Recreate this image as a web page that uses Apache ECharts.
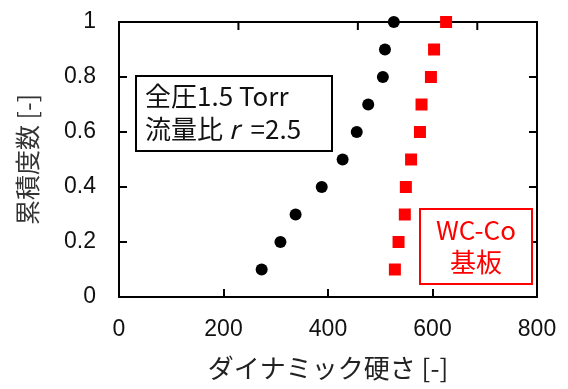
<!DOCTYPE html>
<html>
<head>
<meta charset="utf-8">
<script src="https://cdn.jsdelivr.net/npm/echarts@6/dist/echarts.min.js"></script>
<style>
  html, body { margin: 0; padding: 0; background: #fff; }
  #chart { width: 568px; height: 389px; }
</style>
</head>
<body>
<div id="chart"></div>
<script>
// Cumulative frequency levels (y) shared by both samples
const cumulative = [0.1, 0.2, 0.3, 0.4, 0.5, 0.6, 0.7, 0.8, 0.9, 1.0];
// Dynamic hardness of the film (black circles)
const hardnessFilm = [273, 309, 338, 388, 428, 455, 477, 505, 509, 526];
// Dynamic hardness of the WC-Co substrate (red squares)
const hardnessSubstrate = [528, 535, 547, 549, 559, 576, 579, 597, 603, 626];

const xTicks = { min: 0, max: 800, interval: 200 };
const yTicks = { min: 0, max: 1, interval: 0.2 };
// Secondary scale used only for the ticks along the upper frame edge
const topTicks = { min: 0, max: 700, values: [200, 400, 600] };

const font = '"Liberation Sans", Arial, sans-serif';
const jpFont = '"Noto Sans CJK JP", "Noto Sans", sans-serif';

const pairs = (xs) => xs.map((x, i) => [x, cumulative[i]]);

const chart = echarts.init(document.getElementById('chart'));

const frameLine = () => ({ show: true, onZero: false, lineStyle: { color: '#000', width: 2 } });
const insideTick = () => ({ show: true, inside: true, length: 8, lineStyle: { color: '#000', width: 2 } });

// Upper and right frame edges with their inward ticks, mapped through the axis scales
function renderFrame(params, api) {
  const [xl, yb] = api.coord([xTicks.min, yTicks.min]);
  const [xr, yt] = api.coord([xTicks.max, yTicks.max]);
  const stroke = { stroke: '#000', lineWidth: 2 };
  const children = [
    { type: 'line', shape: { x1: xl - 1, y1: yt, x2: xr + 1, y2: yt }, style: stroke },
    { type: 'line', shape: { x1: xr, y1: yt, x2: xr, y2: yb + 1 }, style: stroke }
  ];
  topTicks.values.forEach((t) => {
    const x = xl + (t - topTicks.min) / (topTicks.max - topTicks.min) * (xr - xl);
    children.push({ type: 'line', shape: { x1: x, y1: yt, x2: x, y2: yt + 8 }, style: stroke });
  });
  for (let v = yTicks.min + yTicks.interval; v < yTicks.max - 1e-9; v += yTicks.interval) {
    const y = api.coord([xTicks.min, v])[1];
    children.push({ type: 'line', shape: { x1: xr, y1: y, x2: xr - 8, y2: y }, style: stroke });
  }
  return { type: 'group', children };
}

chart.setOption({
  animation: false,
  grid: {
    left: 119, top: 22, right: 31, bottom: 92,
    show: true, borderColor: '#000', borderWidth: 2
  },
  title: [
    {
      // condition box
      left: 136, top: 76,
      text: '全圧1.5 Torr\n流量比 {it|r}  =2.5',
      padding: [4, 31, 5, 9],
      borderColor: '#000', borderWidth: 2, backgroundColor: '#fff',
      textStyle: {
        fontFamily: jpFont, fontSize: 26, lineHeight: 33, fontWeight: 'normal', color: '#111',
        rich: { it: { fontStyle: 'italic', fontFamily: jpFont, fontSize: 26, lineHeight: 33, color: '#111' } }
      }
    },
    {
      // substrate label
      left: 420, top: 209,
      text: '{a|WC-Co}\n{a|基板}',
      padding: [5, 6, 6, 6],
      borderColor: '#ff0000', borderWidth: 2, backgroundColor: '#fff',
      textStyle: {
        fontFamily: jpFont, fontSize: 26, lineHeight: 32, fontWeight: 'normal', color: '#ff0000',
        rich: { a: { width: 100, align: 'center', fontFamily: jpFont, fontSize: 26, lineHeight: 32, color: '#ff0000' } }
      }
    }
  ],
  xAxis: {
    type: 'value', position: 'bottom',
    min: xTicks.min, max: xTicks.max, interval: xTicks.interval,
    name: 'ダイナミック硬さ [-]', nameLocation: 'middle', nameGap: 58,
    nameTextStyle: { fontFamily: jpFont, fontSize: 26, color: '#222' },
    axisLine: frameLine(), axisTick: insideTick(),
    axisLabel: { fontFamily: font, fontSize: 23, color: '#111', margin: 21 },
    splitLine: { show: false }
  },
  yAxis: {
    type: 'value', position: 'left',
    min: yTicks.min, max: yTicks.max, interval: yTicks.interval,
    name: '累積度数 [-]', nameLocation: 'middle', nameGap: 79, nameRotate: 90,
    nameTextStyle: { fontFamily: jpFont, fontSize: 25, color: '#333' },
    axisLine: frameLine(), axisTick: insideTick(),
    axisLabel: { fontFamily: font, fontSize: 23, color: '#111', margin: 23 },
    splitLine: { show: false }
  },
  series: [
    {
      type: 'custom', renderItem: renderFrame,
      data: [[xTicks.min, yTicks.min]], clip: false, silent: true, z: 1
    },
    {
      type: 'scatter',
      data: pairs(hardnessFilm),
      symbol: 'circle', symbolSize: 12,
      itemStyle: { color: '#000', opacity: 1 }
    },
    {
      type: 'scatter',
      data: pairs(hardnessSubstrate),
      symbol: 'rect', symbolSize: 12,
      itemStyle: { color: '#ff0000', opacity: 1 }
    }
  ]
});
</script>
</body>
</html>
